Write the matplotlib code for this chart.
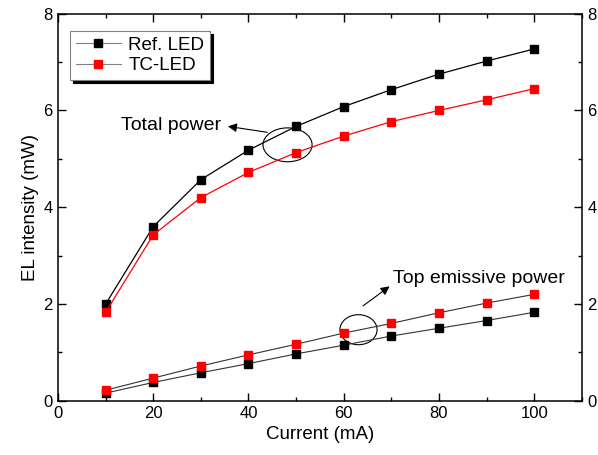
import matplotlib
matplotlib.use("Agg")
import matplotlib.pyplot as plt
from matplotlib.lines import Line2D
from matplotlib.patches import Ellipse
from matplotlib.ticker import MultipleLocator

plt.rcParams['font.family'] = ['Liberation Sans', 'DejaVu Sans']

current = [10, 20, 30, 40, 50, 60, 70, 80, 90, 100]
ref_total = [2.0, 3.6, 4.57, 5.18, 5.67, 6.08, 6.43, 6.75, 7.02, 7.27]
tc_total = [1.83, 3.43, 4.2, 4.72, 5.13, 5.47, 5.77, 6.0, 6.22, 6.45]
ref_top = [0.16, 0.38, 0.58, 0.77, 0.97, 1.15, 1.34, 1.5, 1.66, 1.83]
tc_top = [0.22, 0.47, 0.72, 0.95, 1.17, 1.4, 1.6, 1.82, 2.02, 2.2]

fig = plt.figure(figsize=(5.98, 4.55), dpi=100)
ax = fig.add_axes([0.097, 0.119, 0.876, 0.851])

ms = 6
ax.plot(current, ref_total, color='black', lw=0.9, marker='s', ms=ms, mfc='black', mec='black')
ax.plot(current, tc_total, color='red', lw=0.9, marker='s', ms=ms, mfc='red', mec='red')
ax.plot(current, ref_top, color='#333333', lw=0.8, marker='s', ms=ms, mfc='black', mec='black')
ax.plot(current, tc_top, color='#333333', lw=0.8, marker='s', ms=ms, mfc='red', mec='red')

ax.set_xlim(0, 110)
ax.set_ylim(0, 8)
ax.xaxis.set_major_locator(MultipleLocator(20))
ax.xaxis.set_minor_locator(MultipleLocator(10))
ax.yaxis.set_major_locator(MultipleLocator(2))
ax.yaxis.set_minor_locator(MultipleLocator(1))
ax.tick_params(which='both', direction='in', top=True, right=True, labelright=True,
               labelsize=12, width=1)
ax.tick_params(which='major', length=6, pad=4)
ax.tick_params(which='minor', length=3)
for s in ax.spines.values():
    s.set_linewidth(1.1)

ax.set_xlabel('Current (mA)', fontsize=13.5, labelpad=3)
ax.set_ylabel('EL intensity (mW)', fontsize=13.5, labelpad=3)

# annotations
ax.add_patch(Ellipse((48.2, 5.29), 10.3, 0.70, fill=False, ec='black', lw=0.8))
ax.annotate('', xy=(35.1, 5.68), xytext=(44.5, 5.54),
            arrowprops=dict(arrowstyle='-|>', color='black', lw=0.8, mutation_scale=13))
ax.text(34.3, 5.69, 'Total power', fontsize=14, ha='right', va='center')

ax.add_patch(Ellipse((63.1, 1.47), 7.8, 0.62, fill=False, ec='black', lw=0.8))
ax.annotate('', xy=(70.1, 2.40), xytext=(63.6, 1.93),
            arrowprops=dict(arrowstyle='-|>', color='black', lw=0.8, mutation_scale=13))
ax.text(70.3, 2.52, 'Top emissive power', fontsize=14, ha='left', va='center')

handles = [
    Line2D([], [], color='gray', lw=0.8, marker='s', ms=ms, mfc='black', mec='black'),
    Line2D([], [], color='gray', lw=0.8, marker='s', ms=ms, mfc='red', mec='red'),
]
leg = ax.legend(handles, ['Ref. LED', 'TC-LED'], loc='upper left', fontsize=13.5,
                bbox_to_anchor=(0.005, 0.98), fancybox=False, handlelength=2.4,
                handletextpad=0.4, borderpad=0.3, labelspacing=0.2,
                shadow={'color': 'black', 'alpha': 1})
leg.get_frame().set_edgecolor('gray')
leg.get_frame().set_linewidth(0.8)

fig.savefig('out.png', dpi=100)
